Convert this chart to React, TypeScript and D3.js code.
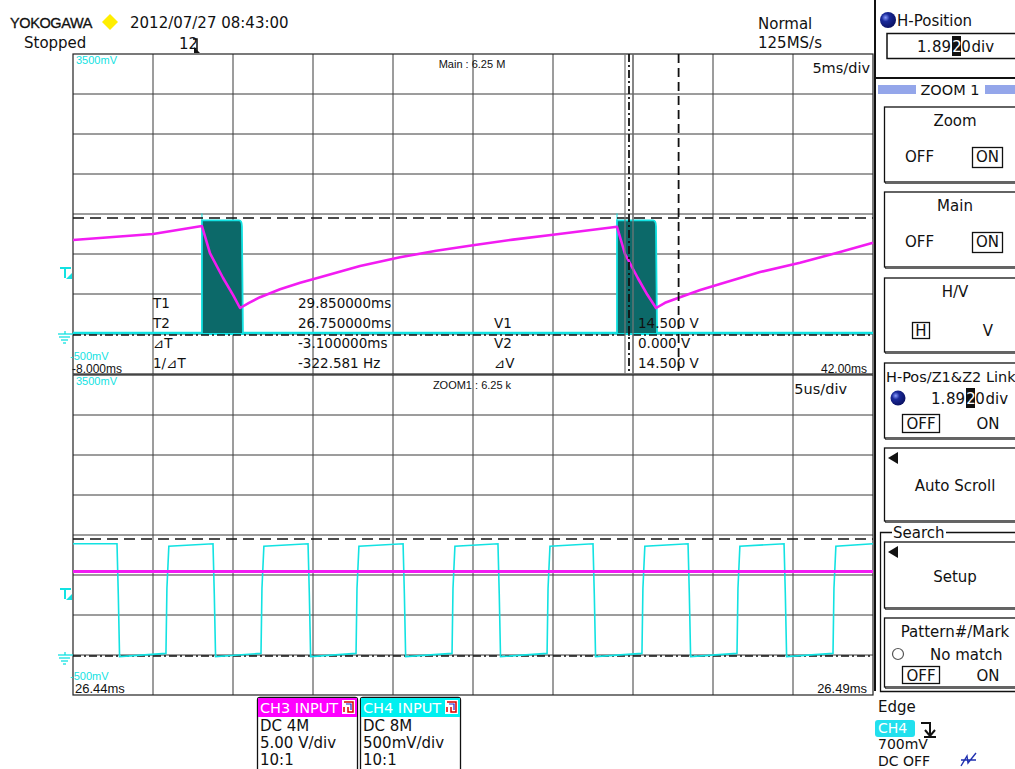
import React from 'react';
import * as d3 from 'd3';

// ---------- DATA ----------
// Main window: time axis (ms)
const mainTimeRange = [-8, 42];
const zoomTimeRangeUs = [0, 50]; // 26.44ms .. 26.49ms, in µs from 26.44ms
const ch4VoltRange = [-0.5, 3.5]; // 500mV/div
const ch3VoltRange = [-5, 35]; // 5V/div

// CH3 (magenta) main trace: time ms, volts
const ch3MainT = [-8, -3, 0.06, 0.56, 1.38, 2.0, 2.44, 3.0, 3.69, 4.94, 6.2, 7.44, 9.94, 12.44, 14.7, 17.0, 19.5, 22.0, 24.0, 26.0, 26.5, 27.3, 27.9, 28.44, 29.0, 29.94, 31.2, 32.44, 34.94, 37.44, 39.94, 42];
const ch3MainV = [11.75, 12.5, 13.5, 10.1, 7.0, 4.9, 3.25, 3.9, 4.6, 5.6, 6.4, 7.1, 8.5, 9.6, 10.4, 11.1, 11.8, 12.4, 12.9, 13.4, 10.0, 7.0, 4.9, 3.25, 3.9, 4.6, 5.5, 6.25, 7.75, 8.9, 10.25, 11.4];

// CH4 (cyan) switching bursts in main window
const burstStart = [0.06, 26.0];
const burstEnd = [2.62, 28.5];
const burstHigh = 1.42;

// Zoom window: CH4 square wave edges (µs from window start)
const cyanFall = [2.75, 8.75, 14.69, 20.63, 26.56, 32.5, 38.44, 44.44];
const cyanRise = [5.81, 11.75, 17.69, 23.69, 29.63, 35.56, 41.5, 47.5];
const cyanHigh = 1.39;
const cyanLow = 0.0;
const ch3ZoomV = 10.45;

// Cursors
const cursorT1 = 29.85;
const cursorT2 = 26.75;
const cursorV1 = 14.5;
const cursorV2 = 0.0;
const zoomMarks = [26.5, 27.0];

// Texts
const cursorTimeLabels = ['T1', 'T2', '⊿T', '1/⊿T'];
const cursorTimeValues = ['29.850000ms', '26.750000ms', '-3.100000ms', '-322.581 Hz'];
const cursorVoltLabels = ['V1', 'V2', '⊿V'];
const cursorVoltValues = ['14.500 V', '0.000 V', '14.500 V'];

const X0 = 73, X1 = 873;
const TOP0 = 54, TOP1 = 374;
const BOT0 = 375, BOT1 = 695;

const CYAN = '#12e2e2';
const MAG = '#f21cf2';
const TEAL = '#0c6969';
const FONT = 'DejaVu Sans';
const ARIAL = 'Liberation Sans';

function Grid({ y0, y1 }: { y0: number; y1: number }) {
  const gx = d3.scaleLinear().domain([0, 10]).range([X0, X1]);
  const gy = d3.scaleLinear().domain([0, 8]).range([y0, y1]);
  return (
    <g>
      {d3.range(1, 10).map((i) => (
        <line key={'v' + i} x1={gx(i)} x2={gx(i)} y1={y0} y2={y1} stroke="#3a3a3a" strokeWidth={1} />
      ))}
      {d3.range(1, 8).map((i) => (
        <line key={'h' + i} x1={X0} x2={X1} y1={gy(i)} y2={gy(i)} stroke="#3a3a3a" strokeWidth={1} />
      ))}
      <rect x={X0} y={y0} width={X1 - X0} height={y1 - y0} fill="none" stroke="#222" strokeWidth={1.2} />
    </g>
  );
}

function GroundMark({ y }: { y: number }) {
  return (
    <g stroke={CYAN} strokeWidth={1.3}>
      <line x1={58} x2={73} y1={y} y2={y} />
      <line x1={59} x2={70} y1={y + 3} y2={y + 3} />
      <line x1={61} x2={68} y1={y + 6} y2={y + 6} />
      <line x1={63} x2={66} y1={y + 9} y2={y + 9} />
      <line x1={65} x2={65} y1={y - 3} y2={y} />
    </g>
  );
}

function TrigMark({ y }: { y: number }) {
  return (
    <g>
      <line x1={60} x2={71} y1={y - 5} y2={y - 5} stroke={CYAN} strokeWidth={2} />
      <line x1={65} x2={65} y1={y - 5} y2={y + 5} stroke={CYAN} strokeWidth={2} />
      <path d={`M${66},${y + 6} L${72},${y + 6} L${72},${y} Z`} fill={CYAN} />
    </g>
  );
}

function MenuBox({ y, h, children }: { y: number; h: number; children?: any }) {
  return (
    <g>
      <rect x={885.5} y={y + 1.5} width={140} height={h} fill="none" stroke="#666" strokeWidth={1} />
      <rect x={884.5} y={y} width={140} height={h} fill="white" stroke="#111" strokeWidth={1.3} />
      {children}
    </g>
  );
}

function DivReadout({ x, y }: { x: number; y: number }) {
  return (
    <g fontSize={15}>
      <text x={x} y={y} fill="#111">1.</text>
      <text x={x + 15} y={y} fill="#111">89</text>
      <rect x={x + 35} y={y - 16} width={9} height={20} fill="#111" />
      <text x={x + 35.2} y={y} fill="white">2</text>
      <text x={x + 44.2} y={y} fill="#111">0</text>
      <text x={x + 54.5} y={y} fill="#111">div</text>
    </g>
  );
}

export default function App() {
  const xMain = d3.scaleLinear().domain(mainTimeRange).range([X0, X1]);
  const xZoom = d3.scaleLinear().domain(zoomTimeRangeUs).range([X0, X1]);
  const y4Top = d3.scaleLinear().domain(ch4VoltRange).range([TOP1, TOP0]);
  const y3Top = d3.scaleLinear().domain(ch3VoltRange).range([TOP1, TOP0]);
  const y4Bot = d3.scaleLinear().domain(ch4VoltRange).range([BOT1, BOT0]);
  const y3Bot = d3.scaleLinear().domain(ch3VoltRange).range([BOT1, BOT0]);

  const ch3Pts: [number, number][] = ch3MainT.map((t, i) => [t, ch3MainV[i]]);
  const ch3Line = d3
    .line<[number, number]>()
    .x((d) => xMain(d[0]))
    .y((d) => y3Top(d[1]));

  const sq: [number, number][] = [[0, cyanHigh]];
  cyanFall.forEach((f, i) => {
    sq.push([f, cyanHigh]);
    sq.push([f + 0.08, cyanHigh * 0.55]);
    sq.push([f + 0.16, cyanLow - 0.02]);
    const r = cyanRise[i];
    if (r !== undefined) {
      sq.push([r, cyanLow + 0.02]);
      sq.push([r + 0.06, cyanHigh * 0.6]);
      sq.push([r + 0.18, cyanHigh - 0.03]);
    }
  });
  sq.push([50, cyanHigh]);
  const sqLine = d3
    .line<[number, number]>()
    .x((d) => xZoom(d[0]))
    .y((d) => y4Bot(d[1]));

  const ch3ZoomLine = d3
    .line<[number, number]>()
    .x((d) => xZoom(d[0]))
    .y((d) => y3Bot(d[1]));

  const burstPath = (s: number, e: number) => {
    const xs = xMain(s), xe = xMain(e);
    const yt = y4Top(burstHigh), yb = y4Top(0);
    return `M${xs},${yb} L${xs},${yt} L${xe - 4},${yt} Q${xe - 1},${yt} ${xe - 1},${yt + 6} L${xe},${yb} Z`;
  };

  const rowY = d3.scaleLinear().domain([0, 3]).range([308, 368]);

  return (
    <svg
      width={1015}
      height={769}
      style={{ position: 'absolute', left: 0, top: 0, background: 'white' }}
      fontFamily={FONT}
    >
      <rect x={0} y={0} width={1015} height={769} fill="white" />

      {/* Header */}
      <text x={10} y={28} fontFamily={ARIAL} fontSize={14.5} letterSpacing={-0.4} fill="#111" stroke="#111" strokeWidth={0.3}>YOKOGAWA</text>
      <path d="M110,14 L118,22 L110,30 L102,22 Z" fill="#ffee00" />
      <text x={130} y={28} fontSize={15} fill="#111">2012/07/27 08:43:00</text>
      <text x={24} y={48} fontSize={15} fill="#111">Stopped</text>
      <text x={179} y={49} fontSize={15} fill="#111">12</text>
      <path d="M193,39 L197,39 L197,52" fill="none" stroke="#111" strokeWidth={1.5} />
      <path d="M194,47 L200,53 L194,53 Z" fill="#111" />
      <text x={758} y={29} fontSize={15} fill="#111">Normal</text>
      <text x={758} y={48} fontSize={15} fill="#111">125MS/s</text>

      <Grid y0={TOP0} y1={TOP1} />
      <Grid y0={BOT0} y1={BOT1} />

      {/* Main panel traces */}
      <line x1={X0} x2={X1} y1={y4Top(0) - 1} y2={y4Top(0) - 1} stroke={CYAN} strokeWidth={2.5} />
      {burstStart.map((s, i) => (
        <g key={'b' + i}>
          <path d={burstPath(s, burstEnd[i])} fill={TEAL} stroke={CYAN} strokeWidth={1.8} />
          <line x1={xMain(s)} x2={xMain(s)} y1={y4Top(burstHigh) - 7} y2={y4Top(burstHigh)} stroke={CYAN} strokeWidth={1} />
        </g>
      ))}
      <path d={ch3Line(ch3Pts) || ''} fill="none" stroke={MAG} strokeWidth={2.6} strokeLinejoin="round" />

      {/* Cursors main */}
      <line x1={X0} x2={X1} y1={y3Top(cursorV1)} y2={y3Top(cursorV1)} stroke="#111" strokeWidth={1.5} strokeDasharray="11,6" />
      <line x1={X0} x2={X1} y1={y3Top(cursorV2) + 1} y2={y3Top(cursorV2) + 1} stroke="#111" strokeWidth={1.5} strokeDasharray="8,3,2,3" />
      {zoomMarks.map((t, i) => (
        <line key={'zm' + i} x1={xMain(t)} x2={xMain(t)} y1={TOP0} y2={TOP1} stroke="#777" strokeWidth={1.2} />
      ))}
      <line x1={xMain(cursorT2)} x2={xMain(cursorT2)} y1={TOP0} y2={TOP1} stroke="#111" strokeWidth={1.8} strokeDasharray="8,3,2,3" />
      <line x1={xMain(cursorT1)} x2={xMain(cursorT1)} y1={TOP0} y2={TOP1} stroke="#111" strokeWidth={1.8} strokeDasharray="9,5" />

      {/* Zoom panel traces */}
      <line x1={X0} x2={X1} y1={y3Bot(cursorV1)} y2={y3Bot(cursorV1)} stroke="#111" strokeWidth={1.5} strokeDasharray="11,6" />
      <line x1={X0} x2={X1} y1={y3Bot(cursorV2) + 1} y2={y3Bot(cursorV2) + 1} stroke="#111" strokeWidth={1.5} strokeDasharray="8,3,2,3" />
      <path d={sqLine(sq) || ''} fill="none" stroke={CYAN} strokeWidth={1.6} />
      <path d={ch3ZoomLine([[0, ch3ZoomV], [50, ch3ZoomV]]) || ''} fill="none" stroke={MAG} strokeWidth={3} />

      {/* Panel labels */}
      <text x={76} y={64} fontFamily={ARIAL} fontSize={11} fill={CYAN}>3500mV</text>
      <text x={70} y={360} fontFamily={ARIAL} fontSize={11} fill={CYAN}>-500mV</text>
      <text x={72} y={373} fontFamily={ARIAL} fontSize={12} fill="#111">-8.000ms</text>
      <text x={867} y={373} fontFamily={ARIAL} fontSize={12} textAnchor="end" fill="#111">42.00ms</text>
      <text x={76} y={385} fontFamily={ARIAL} fontSize={11} fill={CYAN}>3500mV</text>
      <text x={70} y={680} fontFamily={ARIAL} fontSize={11} fill={CYAN}>-500mV</text>
      <text x={75} y={693} fontFamily={ARIAL} fontSize={13} fill="#111">26.44ms</text>
      <text x={867} y={693} fontFamily={ARIAL} fontSize={13} textAnchor="end" fill="#111">26.49ms</text>
      <text x={472} y={68} fontFamily={ARIAL} fontSize={11} textAnchor="middle" fill="#111">Main : 6.25 M</text>
      <text x={472} y={389} fontFamily={ARIAL} fontSize={11} textAnchor="middle" fill="#111">ZOOM1 : 6.25 k</text>
      <text x={870} y={73} fontSize={14.5} textAnchor="end" fill="#111">5ms/div</text>
      <text x={847} y={394} fontSize={14.5} textAnchor="end" fill="#111">5us/div</text>

      <GroundMark y={334} />
      <GroundMark y={655} />
      <TrigMark y={273} />
      <TrigMark y={594} />

      {/* Cursor readouts */}
      {cursorTimeLabels.map((l, i) => (
        <g key={'ct' + i}>
          <text x={153} y={rowY(i)} fontSize={13.5} fill="#111">{l}</text>
          <text x={298} y={rowY(i)} fontSize={13.5} fill="#111">{cursorTimeValues[i]}</text>
        </g>
      ))}
      {cursorVoltLabels.map((l, i) => (
        <g key={'cv' + i}>
          <text x={494} y={rowY(i + 1)} fontSize={13.5} fill="#111">{l}</text>
          <text x={638} y={rowY(i + 1)} fontSize={13.5} fill="#111">{cursorVoltValues[i]}</text>
        </g>
      ))}

      {/* Right menu */}
      <line x1={875} x2={875} y1={0} y2={691} stroke="#111" strokeWidth={2} />
      <defs>
        <radialGradient id="ball" cx="0.35" cy="0.35" r="0.7">
          <stop offset="0" stopColor="#8a9cff" />
          <stop offset="0.35" stopColor="#1a2a9a" />
          <stop offset="1" stopColor="#0a1060" />
        </radialGradient>
      </defs>
      <circle cx={888} cy={20} r={8} fill="url(#ball)" />
      <text x={897} y={26} fontSize={15} fill="#111">H-Position</text>
      <rect x={887} y={33.5} width={135} height={25} fill="white" stroke="#111" strokeWidth={1.5} />
      <DivReadout x={917} y={52} />
      <line x1={875} x2={1015} y1={78} y2={78} stroke="#111" strokeWidth={2} />
      <rect x={878} y={85} width={38} height={9} fill="#94a6ea" />
      <rect x={985} y={85} width={32} height={9} fill="#94a6ea" />
      <text x={950} y={95} fontSize={14.5} textAnchor="middle" fill="#111">ZOOM 1</text>

      <MenuBox y={107} h={75}>
        <text x={955} y={126} fontSize={15} textAnchor="middle" fill="#111">Zoom</text>
        <text x={905} y={162} fontSize={15} fill="#111">OFF</text>
        <rect x={972.5} y={147.5} width={30} height={20} fill="none" stroke="#111" strokeWidth={1.3} />
        <text x={987.5} y={162} fontSize={15} textAnchor="middle" fill="#111">ON</text>
      </MenuBox>
      <MenuBox y={192} h={75}>
        <text x={955} y={211} fontSize={15} textAnchor="middle" fill="#111">Main</text>
        <text x={905} y={247} fontSize={15} fill="#111">OFF</text>
        <rect x={972.5} y={232.5} width={30} height={20} fill="none" stroke="#111" strokeWidth={1.3} />
        <text x={987.5} y={247} fontSize={15} textAnchor="middle" fill="#111">ON</text>
      </MenuBox>
      <MenuBox y={278} h={74}>
        <text x={955} y={297} fontSize={15} textAnchor="middle" fill="#111">H/V</text>
        <rect x={912.5} y={322.5} width={17} height={16} fill="none" stroke="#111" strokeWidth={1.3} />
        <text x={921} y={336} fontSize={15} textAnchor="middle" fill="#111">H</text>
        <text x={988} y={336} fontSize={15} textAnchor="middle" fill="#111">V</text>
      </MenuBox>
      <MenuBox y={363} h={75}>
        <text x={886} y={382} fontSize={14.5} fill="#111">H-Pos/Z1&amp;Z2 Link</text>
        <circle cx={898} cy={398} r={7.5} fill="url(#ball)" />
        <DivReadout x={931} y={404} />
        <rect x={902.5} y={414.5} width={37} height={18} fill="none" stroke="#111" strokeWidth={1.3} />
        <text x={921} y={429} fontSize={15} textAnchor="middle" fill="#111">OFF</text>
        <text x={988} y={429} fontSize={15} textAnchor="middle" fill="#111">ON</text>
      </MenuBox>
      <MenuBox y={448} h={73}>
        <path d="M888,458 L898,452 L898,464 Z" fill="#111" />
        <text x={955} y={491} fontSize={15} textAnchor="middle" fill="#111">Auto Scroll</text>
      </MenuBox>

      {/* Search group */}
      <path d="M892,532.5 L880.5,532.5 L880.5,691.5 L1015,691.5" fill="none" stroke="#111" strokeWidth={1.3} />
      <line x1={946} x2={1015} y1={532.5} y2={532.5} stroke="#111" strokeWidth={1.3} />
      <text x={893} y={538} fontSize={15} fill="#111">Search</text>
      <MenuBox y={542} h={66}>
        <path d="M888,552 L898,546 L898,558 Z" fill="#111" />
        <text x={955} y={582} fontSize={15} textAnchor="middle" fill="#111">Setup</text>
      </MenuBox>
      <MenuBox y={618} h={69}>
        <text x={955} y={637} fontSize={15} textAnchor="middle" fill="#111">Pattern#/Mark</text>
        <circle cx={898} cy={654} r={5.5} fill="white" stroke="#555" strokeWidth={1.2} />
        <text x={930} y={660} fontSize={15} fill="#111">No match</text>
        <rect x={902.5} y={666.5} width={37} height={17} fill="none" stroke="#111" strokeWidth={1.3} />
        <text x={921} y={681} fontSize={15} textAnchor="middle" fill="#111">OFF</text>
        <text x={988} y={681} fontSize={15} textAnchor="middle" fill="#111">ON</text>
      </MenuBox>

      {/* Trigger info */}
      <text x={878} y={712} fontSize={15} fill="#111">Edge</text>
      <rect x={875} y={720} width={40} height={17} rx={3} fill="#22e0ee" />
      <text x={878} y={733} fontSize={14} fill="white">CH4</text>
      <path d="M921,723 L930,723 L930,735" fill="none" stroke="#111" strokeWidth={2} />
      <path d="M925,730 L930,736 L935,730" fill="none" stroke="#111" strokeWidth={2} />
      <line x1={924} x2={936} y1={737} y2={737} stroke="#111" strokeWidth={2} />
      <text x={878} y={749} fontSize={14} fill="#111">700mV</text>
      <text x={878} y={766} fontSize={14} fill="#111">DC OFF</text>
      <path d="M961,766 L967,756 L968,763 L976,753 M961,760 L976,760" fill="none" stroke="#2030b0" strokeWidth={1.4} />

      {/* Channel boxes */}
      <g>
        <path d="M257.5,769 L257.5,700 Q257.5,697.5 260,697.5 L355,697.5 Q357.5,697.5 357.5,700 L357.5,769" fill="white" stroke="#111" strokeWidth={1.3} />
        <rect x={258} y={698} width={99} height={19} fill="#ff00ff" />
        <text x={260} y={713} fontSize={14.5} fill="white">CH3 INPUT</text>
        <rect x={342} y={700} width={13} height={14} fill="white" />
        <path d="M344,702 L353,702 L353,712 L348,712 L348,707 M344,707 L344,712" fill="none" stroke="#d00" strokeWidth={1.5} />
        <path d="M346,704 L351,704 L351,710" fill="none" stroke="#22c" strokeWidth={1.2} />
        <text x={260} y={731} fontSize={15} fill="#111">DC 4M</text>
        <text x={260} y={748} fontSize={15} fill="#111">5.00 V/div</text>
        <text x={260} y={765} fontSize={15} fill="#111">10:1</text>
      </g>
      <g>
        <path d="M360.5,769 L360.5,700 Q360.5,697.5 363,697.5 L458,697.5 Q460.5,697.5 460.5,700 L460.5,769" fill="white" stroke="#111" strokeWidth={1.3} />
        <rect x={361} y={698} width={99} height={19} fill="#00f0f0" />
        <text x={363} y={713} fontSize={14.5} fill="white">CH4 INPUT</text>
        <rect x={445} y={700} width={13} height={14} fill="white" />
        <path d="M447,702 L456,702 L456,712 L451,712 L451,707 M447,707 L447,712" fill="none" stroke="#d00" strokeWidth={1.5} />
        <path d="M449,704 L454,704 L454,710" fill="none" stroke="#22c" strokeWidth={1.2} />
        <text x={363} y={731} fontSize={15} fill="#111">DC 8M</text>
        <text x={363} y={748} fontSize={15} fill="#111">500mV/div</text>
        <text x={363} y={765} fontSize={15} fill="#111">10:1</text>
      </g>
    </svg>
  );
}
